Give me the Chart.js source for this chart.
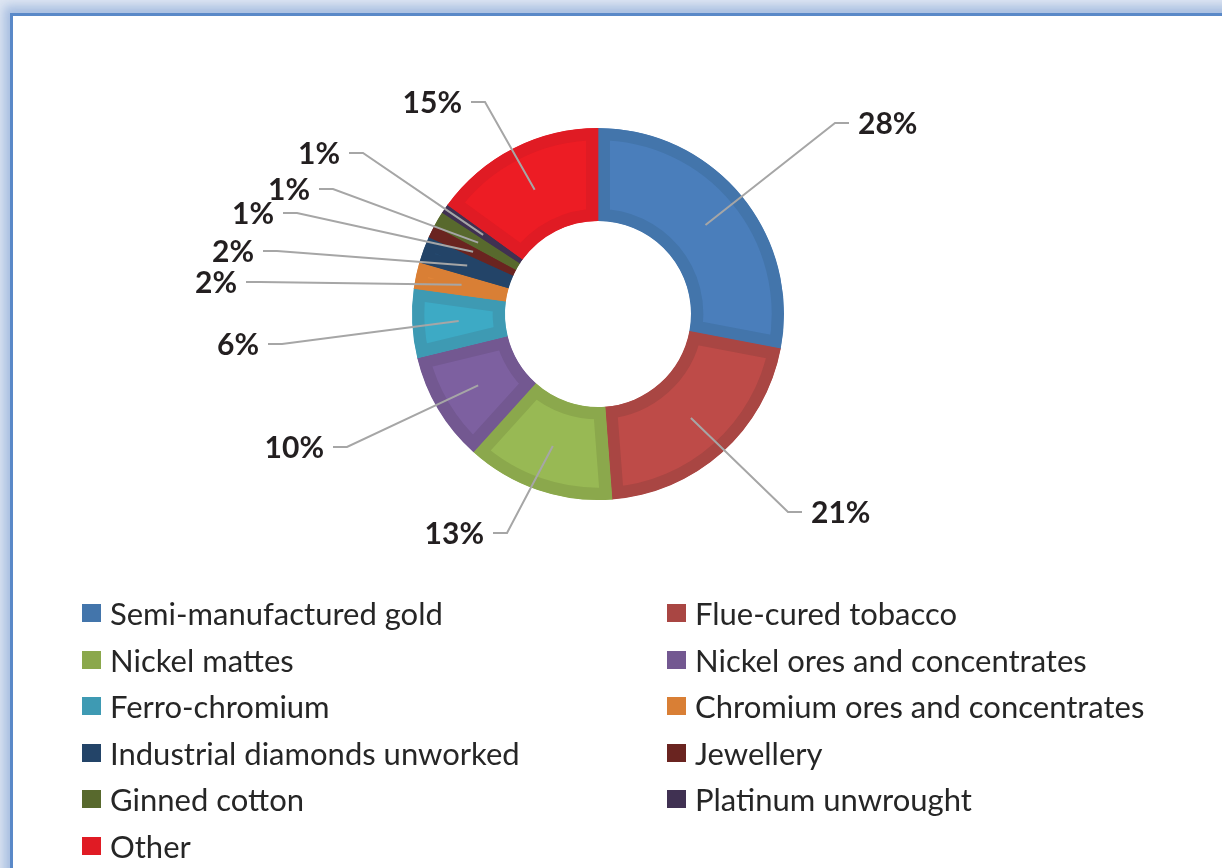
<!DOCTYPE html>
<html lang="en">
<head>
  <meta charset="UTF-8" />
  <title>Export shares</title>
  <script src="https://cdn.jsdelivr.net/npm/chart.js"></script>
  <style>
    html, body { margin: 0; padding: 0; width: 1222px; height: 868px; overflow: hidden; background: #dfe7f3; }
    #frame {
      position: absolute; left: 10px; top: 13px; width: 1260px; height: 900px;
      background: #fff;
      border-left: 3px solid #5a89c8; border-top: 3px solid #5a89c8;
      box-shadow: -3px -4px 10px 3px rgba(120, 155, 210, 0.55);
    }
    #chart { position: absolute; left: 0; top: 0; }
    #legend {
      position: absolute; left: 82px; top: 590px;
      display: grid; grid-template-columns: 585px 560px;
      font-family: Lato, "Open Sans", sans-serif; font-size: 31px; color: #262626;
    }
    .item { height: 46.5px; display: flex; align-items: center; white-space: nowrap; }
    .sw { width: 19px; height: 18px; margin-right: 9px; flex: none; }
  </style>
</head>
<body>
  <div id="frame"></div>
  <canvas id="chart" width="1222" height="868"></canvas>
  <div id="legend"></div>

  <script>
    // categories and shares (%)
    const categories = [
      'Semi-manufactured gold', 'Flue-cured tobacco', 'Nickel mattes',
      'Nickel ores and concentrates', 'Ferro-chromium', 'Chromium ores and concentrates',
      'Industrial diamonds unworked', 'Jewellery', 'Ginned cotton', 'Platinum unwrought', 'Other'
    ];
    const shares = [28.0, 20.8, 12.9, 9.5, 6.0, 2.3, 2.3, 1.1, 1.3, 0.8, 15.0];

    const fillColors = ['#4a7ebb', '#be4b48', '#98b954', '#7d60a0', '#3daac5', '#e5883a',
                        '#254a70', '#6d2621', '#5b702e', '#423355', '#ed1c24'];
    const bandColors = ['#4375ab', '#a94643', '#8ba84c', '#735891', '#3e9ab3', '#d97f35',
                        '#234468', '#6a2420', '#58692d', '#403152', '#e01b24'];

    // where each data label sits: elbow of leader line and side of the text
    const labelSpots = [
      [835, 123, 1], [788, 512, 1], [507, 533, -1], [347, 447, -1], [282, 344, -1],
      [260, 282, -1], [277, 251, -1], [297, 213, -1], [333, 189, -1], [363, 153, -1],
      [485, 102, -1]
    ];

    const leaders = {
      id: 'leaders',
      afterDatasetsDraw(chart) {
        const ctx = chart.ctx;
        const total = shares.reduce((a, b) => a + b, 0);
        chart.getDatasetMeta(0).data.forEach((arc, i) => {
          const p = arc.getProps(['x', 'y', 'startAngle', 'endAngle', 'innerRadius', 'outerRadius'], true);
          const mid = (p.startAngle + p.endAngle) / 2;
          const r = (p.innerRadius + p.outerRadius) / 2;
          const sx = p.x + Math.cos(mid) * r;
          const sy = p.y + Math.sin(mid) * r;
          const [ex, ey, dir] = labelSpots[i];
          const endX = ex + dir * 14;
          ctx.save();
          ctx.strokeStyle = '#a6a6a6';
          ctx.lineWidth = 2;
          ctx.beginPath();
          ctx.moveTo(sx, sy);
          ctx.lineTo(ex, ey);
          ctx.lineTo(endX, ey);
          ctx.stroke();
          ctx.fillStyle = '#231f20';
          ctx.font = 'bold 30px Lato, "Open Sans", sans-serif';
          ctx.textBaseline = 'middle';
          ctx.textAlign = dir > 0 ? 'left' : 'right';
          ctx.fillText(Math.round(shares[i] / total * 100) + '%', endX + dir * 9, ey + 1);
          ctx.restore();
        });
      }
    };

    new Chart(document.getElementById('chart'), {
      type: 'doughnut',
      data: {
        labels: categories,
        datasets: [{
          data: shares,
          backgroundColor: fillColors,
          borderColor: bandColors,
          borderWidth: 12,
          borderAlign: 'inner',
          borderJoinStyle: 'miter',
          hoverOffset: 0,
          offset: 0
        }]
      },
      options: {
        responsive: false,
        devicePixelRatio: 1,
        animation: false,
        events: [],
        cutout: '50%',
        layout: { padding: { top: 128, bottom: 368, left: 412, right: 438 } },
        plugins: { legend: { display: false }, tooltip: { enabled: false } }
      },
      plugins: [leaders]
    });

    // legend, two columns filled row by row
    const legend = document.getElementById('legend');
    categories.forEach((name, i) => {
      const item = document.createElement('div');
      item.className = 'item';
      item.innerHTML = `<span class="sw" style="background:${bandColors[i]}"></span><span>${name}</span>`;
      legend.appendChild(item);
    });
  </script>
</body>
</html>
